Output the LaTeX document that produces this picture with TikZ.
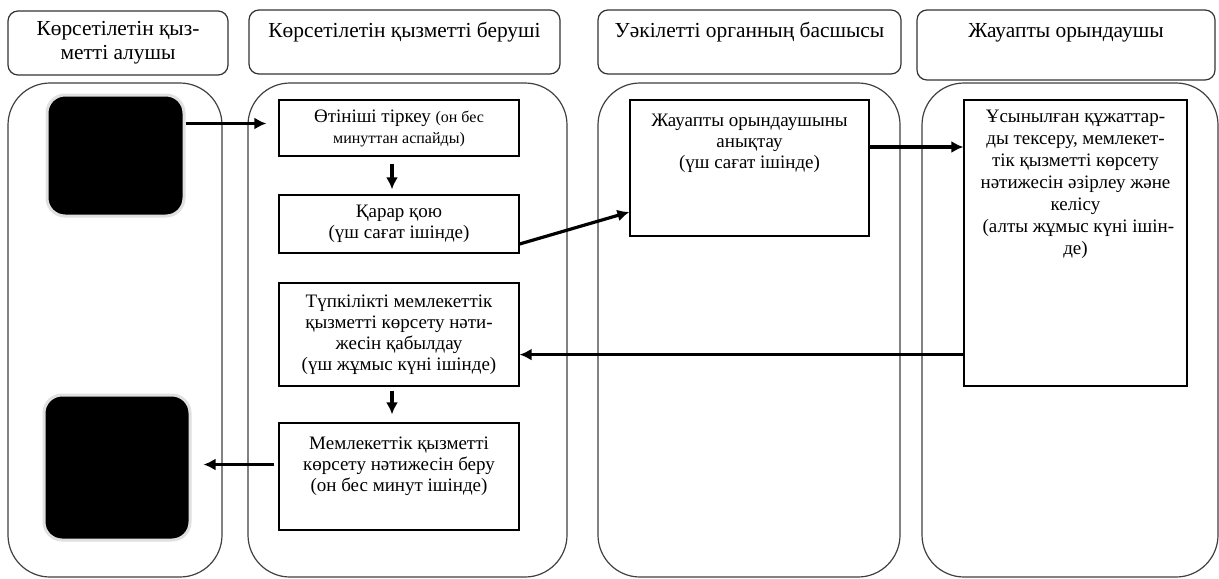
\documentclass[tikz,border=0pt]{standalone}
\usepackage{fontspec}
\setmainfont{Liberation Serif}
\usetikzlibrary{arrows.meta}

\begin{document}
\begin{tikzpicture}[x=0.5pt, y=-0.5pt]
  % Styles
  \tikzset{
    lane/.style={draw=black!75, line width=0.6pt, rounded corners=21pt},
    head/.style={draw=black!80, line width=0.6pt, rounded corners=5pt, align=center, inner sep=0pt,
      font=\fontsize{10.7pt}{12pt}\selectfont},
    proc/.style={draw, line width=0.6pt, minimum width=120pt, align=center, inner sep=0pt,
      font=\fontsize{9.5pt}{10.5pt}\selectfont},
    txt/.style={align=center, inner sep=0pt, anchor=north, font=\fontsize{9.5pt}{10.5pt}\selectfont},
    blk/.style={fill=black, draw=black!12, line width=1.5pt, rounded corners=9pt},
    arr/.style={-{Latex[length=6pt, width=6pt]}, line width=1.6pt},
  }

  % Cadre
  \path[use as bounding box, fill=white] (0,0) rectangle (1219,578);

  % Bagandar
  \draw[lane] (8,83) rectangle (222,577);
  \draw[lane] (248,83) rectangle (567,577);
  \draw[lane] (598,83) rectangle (900,577);
  \draw[lane] (922,83) rectangle (1218,577);

  % Takyryptar
  \node[head, minimum width=110pt, minimum height=32pt] (h1) at (118,43) {Көрсетілетін қыз-\\метті алушы};
  \node[head, minimum width=155.5pt, minimum height=32pt, text height=7pt, text depth=12pt] (h2) at (404.5,42)
    {Көрсетілетін қызметті беруші};
  \node[head, minimum width=151.5pt, minimum height=32pt, text height=7pt, text depth=12pt] (h3) at (749.5,42)
    {Уәкілетті органның басшысы};
  \node[head, minimum width=149pt, minimum height=35pt, text height=7pt, text depth=15pt] (h4) at (1066,45)
    {Жауапты орындаушы};

  % Kara tortburyshtar
  \node[blk, minimum width=68.5pt, minimum height=60.5pt] (b1) at (115.5,155.5) {};
  \node[blk, minimum width=73pt, minimum height=72.5pt] (b2) at (117,467.5) {};

  % Kadamdar
  \node[proc, minimum height=28pt] (p1) at (399,128)
    {Өтініші тіркеу {\fontsize{8pt}{10pt}\selectfont (он бес}\\{\fontsize{8pt}{10pt}\selectfont минуттан аспайды)}};
  \node[proc, minimum height=29pt] (p2) at (399,224) {Қарар қою\\(үш сағат ішінде)};
  \node[proc, minimum height=51.5pt] (p3) at (399,334.5)
    {Түпкілікті мемлекеттік\\қызметті көрсету нәти-\\жесін қабылдау\\(үш жұмыс күні ішінде)};
  \node[proc, minimum height=53.5pt] (p4) at (399,476.5) {};
  \node[txt] (p4t) at ([yshift=-7pt]p4.north)
    {Мемлекеттік қызметті\\көрсету нәтижесін беру\\(он бес минут ішінде)};
  \node[proc, minimum width=119.5pt, minimum height=68pt] (p5) at (749.5,168) {};
  \node[txt] (p5t) at ([yshift=-7pt]p5.north) {Жауапты орындаушыны\\анықтау\\(үш сағат ішінде)};
  \node[proc, minimum width=111.5pt, minimum height=143pt] (p6) at (1075.5,243) {};
  \node[txt, font=\fontsize{9.5pt}{11pt}\selectfont] (p6t) at ([yshift=-5pt]p6.north)
    {Ұсынылған құжаттар-\\ды тексеру, мемлекет-\\тік қызметті көрсету\\нәтижесін әзірлеу және\\келісу\\\hspace*{0.3em}(алты жұмыс күні ішін-\\де)};

  % Baghyttar
  \draw[arr, shorten >=6pt] ([yshift=16pt]b1.east) -- ([yshift=16pt]b1.east -| p1.west);
  \draw[arr, shorten <=3.5pt, shorten >=2.5pt] ([xshift=-3.5pt]p1.south) -- ([xshift=-3.5pt]p2.north);
  \draw[arr] ([yshift=-10pt]p2.east) -- ([yshift=-22pt]p5.west);
  \draw[arr] ([yshift=10.5pt]p5.east) -- ([yshift=10.5pt]p5.east -| p6.west);
  \draw[arr] ([yshift=16pt]p6.south west) -- ([yshift=16pt]p6.south west -| p3.east);
  \draw[arr, shorten <=2pt, shorten >=4pt] ([xshift=-3.5pt]p3.south) -- ([xshift=-3.5pt]p4.north);
  \draw[arr, shorten <=2pt, shorten >=6pt] ([yshift=6pt]p4.west) -- ([yshift=6pt]p4.west -| b2.east);

\end{tikzpicture}
\end{document}
